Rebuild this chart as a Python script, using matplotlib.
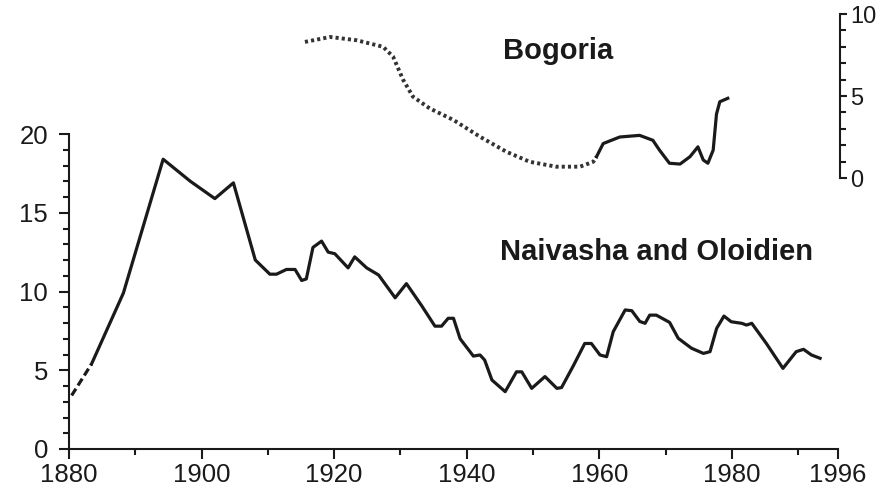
import matplotlib
matplotlib.use("Agg")
import matplotlib.pyplot as plt
from matplotlib.ticker import MultipleLocator, FixedLocator

plt.rcParams['font.family'] = ['Liberation Sans', 'DejaVu Sans']

# Naivasha and Oloidien (left axis)
naivasha_years = [1880.4, 1883.4, 1888.2, 1894.2, 1898.3, 1902.0, 1904.8, 1908.1,
                  1910.3, 1911.3, 1912.8, 1914.1, 1915.1, 1915.8, 1916.8, 1918.1,
                  1919.1, 1920.1, 1922.1, 1923.1, 1924.9, 1926.7, 1929.2, 1930.9,
                  1933.2, 1935.2, 1936.2, 1937.2, 1938.0, 1939.0, 1941.0, 1942.0,
                  1942.7, 1943.8, 1945.8, 1947.5, 1948.3, 1949.8, 1951.8, 1953.6,
                  1954.3, 1956.1, 1957.8, 1958.8, 1960.1, 1961.1, 1962.1, 1963.9,
                  1964.9, 1966.1, 1966.9, 1967.6, 1968.6, 1970.6, 1971.9, 1973.9,
                  1975.7, 1976.7, 1977.7, 1978.8, 1979.9, 1981.5, 1982.2, 1983.0,
                  1985.2, 1987.7, 1989.7, 1990.8, 1992.0, 1993.3]
naivasha_vals = [3.4, 5.4, 9.9, 18.4, 17.0, 15.9, 16.9, 12.0,
                 11.1, 11.1, 11.4, 11.4, 10.7, 10.8, 12.8, 13.2,
                 12.5, 12.4, 11.5, 12.2, 11.5, 11.05, 9.6, 10.5,
                 9.1, 7.8, 7.8, 8.3, 8.3, 7.0, 5.9, 5.97,
                 5.65, 4.38, 3.64, 4.9, 4.9, 3.85, 4.6, 3.85,
                 3.9, 5.3, 6.7, 6.7, 5.97, 5.86, 7.45, 8.83,
                 8.78, 8.1, 7.98, 8.5, 8.5, 8.04, 7.03, 6.4,
                 6.07, 6.18, 7.66, 8.44, 8.08, 7.98, 7.87, 7.98,
                 6.7, 5.12, 6.18, 6.33, 5.97, 5.76]

# Bogoria (right axis): reconstructed part, then measured part
bogoria_est_years = [1915.6, 1919.4, 1923.4, 1927.4, 1928.9, 1930.4, 1931.9, 1934.4,
                     1938.0, 1942.0, 1946.0, 1949.5, 1953.5, 1957.1, 1959.1, 1959.6]
bogoria_est_vals = [8.3, 8.6, 8.4, 8.0, 7.4, 6.0, 4.96, 4.25,
                    3.54, 2.52, 1.6, 0.99, 0.69, 0.69, 0.99, 1.3]
bogoria_years = [1959.6, 1960.6, 1963.1, 1966.1, 1968.1, 1969.1, 1970.6, 1972.2,
                 1973.7, 1974.9, 1975.7, 1976.4, 1977.2, 1977.7, 1978.2, 1979.4]
bogoria_vals = [1.3, 2.1, 2.5, 2.6, 2.3, 1.7, 0.9, 0.85,
                1.3, 1.9, 1.1, 0.9, 1.7, 3.9, 4.65, 4.86]

x_ticks = [1880, 1900, 1920, 1940, 1960, 1980, 1996]

ink = '#1a1a1a'

fig = plt.figure(figsize=(8.78, 4.92), dpi=100)
ax = fig.add_axes([0.0786, 0.0874, 0.8758, 0.6402])

split = 2
ax.plot(naivasha_years[:split], naivasha_vals[:split], color=ink, lw=2.3,
        linestyle=(0, (2.5, 1.2)))
ax.plot(naivasha_years[split - 1:], naivasha_vals[split - 1:], color=ink, lw=2.3)

ax.set_xlim(1880, 1996)
ax.set_ylim(0, 20)
for s in ['top', 'right']:
    ax.spines[s].set_visible(False)
for s in ['left', 'bottom']:
    ax.spines[s].set_linewidth(1.5)
    ax.spines[s].set_color(ink)
ax.xaxis.set_major_locator(FixedLocator(x_ticks))
ax.xaxis.set_minor_locator(FixedLocator([1890, 1910, 1930, 1950, 1970, 1990]))
ax.yaxis.set_major_locator(MultipleLocator(5))
ax.yaxis.set_minor_locator(MultipleLocator(1))
ax.tick_params(which='major', length=7, width=1.5, labelsize=18.5, color=ink,
               labelcolor=ink)
ax.tick_params(which='minor', length=4, width=1.5, color=ink)
ax.tick_params(axis='x', pad=3)
ax.tick_params(axis='y', pad=8)

ax.text(1945.0, 12.5, 'Naivasha and Oloidien', fontsize=21, fontweight='bold',
        color=ink, va='center', ha='left')

# inset axes for Bogoria with its own scale on the right
bx = fig.add_axes([0.0786, 0.6382, 0.8786, 0.3333])
bx.patch.set_alpha(0)
bx.plot(bogoria_est_years, bogoria_est_vals, color='#333333', lw=2.8,
        linestyle=(0, (0.8, 0.8)))
bx.plot(bogoria_years, bogoria_vals, color=ink, lw=2.3)
bx.set_xlim(1880, 1996.4)
bx.set_ylim(0, 10)
for s in ['top', 'left', 'bottom']:
    bx.spines[s].set_visible(False)
bx.spines['right'].set_linewidth(1.5)
bx.spines['right'].set_color(ink)
bx.set_xticks([])
bx.yaxis.tick_right()
bx.yaxis.set_major_locator(MultipleLocator(5))
bx.yaxis.set_minor_locator(MultipleLocator(1))
bx.tick_params(which='major', length=5, width=1.5, labelsize=17, pad=2,
               color=ink, labelcolor=ink)
bx.tick_params(which='minor', length=4, width=1.5, color=ink)
bx.text(1945.5, 7.75, 'Bogoria', fontsize=21, fontweight='bold', color=ink,
        ha='left', va='center')

fig.savefig('out.png', dpi=100, facecolor='white')
